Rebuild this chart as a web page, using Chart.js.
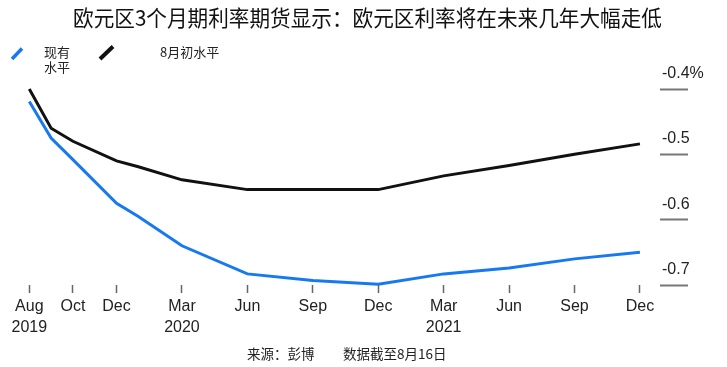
<!DOCTYPE html>
<html>
<head>
<meta charset="utf-8">
<title>欧元区3个月期利率期货</title>
<script src="https://cdn.jsdelivr.net/npm/chart.js@4"></script>
<style>
  html, body { margin: 0; padding: 0; background: #fff; }
  #wrap { position: relative; width: 727px; height: 367px; }
</style>
</head>
<body>
<div id="wrap"><canvas id="chart"></canvas></div>
<script>
// months counted from Aug 2019 (0) to Dec 2021 (28)
const months = [0, 1, 2, 4, 5, 7, 10, 13, 16, 19, 22, 25, 28];
const currentLevel = [-0.419, -0.475, -0.508, -0.575, -0.595, -0.640, -0.683, -0.693, -0.699, -0.683, -0.674, -0.660, -0.650];
const augustLevel = [-0.400, -0.460, -0.480, -0.510, -0.519, -0.539, -0.554, -0.554, -0.554, -0.533, -0.517, -0.500, -0.484];

const tickMonths = [0, 2, 4, 7, 10, 13, 16, 19, 22, 25, 28];
const tickLabels = [['Aug', '2019'], 'Oct', 'Dec', ['Mar', '2020'], 'Jun', 'Sep', 'Dec', ['Mar', '2021'], 'Jun', 'Sep', 'Dec'];
const yTicks = [-0.4, -0.5, -0.6, -0.7];

const title = '欧元区3个月期利率期货显示：欧元区利率将在未来几年大幅走低';
const legendNames = ['现有', '水平', '8月初水平'];
const sourceText = ['来源：彭博', '数据截至8月16日'];

const BLUE = '#1779f2';
const BLACK = '#111111';
const CJK = "'Noto Sans CJK SC', sans-serif";

Chart.defaults.font.family = "'Liberation Sans', Arial, sans-serif";
Chart.defaults.color = '#222';

const toPoints = vals => vals.map((v, i) => ({ x: months[i], y: v }));

// title, legend and source note
const decor = {
  id: 'decor',
  afterDraw(chart) {
    const ctx = chart.ctx;
    ctx.save();
    ctx.fillStyle = '#111';
    ctx.textBaseline = 'middle';
    ctx.textAlign = 'left';
    ctx.font = '22px ' + CJK;
    ctx.fillText(title, 73, 18, 589);

    ctx.lineCap = 'butt';
    ctx.lineWidth = 3.5;
    ctx.strokeStyle = BLUE;
    ctx.beginPath();
    ctx.moveTo(12, 59);
    ctx.lineTo(22, 48.5);
    ctx.stroke();
    ctx.lineWidth = 4;
    ctx.strokeStyle = BLACK;
    ctx.beginPath();
    ctx.moveTo(100, 59);
    ctx.lineTo(113, 46.5);
    ctx.stroke();

    ctx.fillStyle = '#222';
    ctx.font = '13px ' + CJK;
    ctx.fillText(legendNames[0], 44, 52);
    ctx.fillText(legendNames[1], 44, 67.5);
    ctx.fillText(legendNames[2], 160, 52);

    ctx.font = '13.5px ' + CJK;
    ctx.fillText(sourceText[0], 247, 354);
    ctx.fillText(sourceText[1], 343, 354);
    ctx.restore();
  }
};

new Chart(document.getElementById('chart'), {
  type: 'line',
  data: {
    datasets: [
      {
        label: '现有水平',
        data: toPoints(currentLevel),
        borderColor: BLUE,
        borderWidth: 3,
        pointRadius: 0,
        tension: 0,
        clip: false
      },
      {
        label: '8月初水平',
        data: toPoints(augustLevel),
        borderColor: BLACK,
        borderWidth: 3,
        pointRadius: 0,
        tension: 0,
        clip: false
      }
    ]
  },
  options: {
    responsive: true,
    maintainAspectRatio: false,
    animation: false,
    layout: { padding: { left: 10, top: 89, right: 0, bottom: 0 } },
    plugins: {
      legend: { display: false },
      title: { display: false },
      tooltip: { enabled: false }
    },
    scales: {
      x: {
        type: 'linear',
        min: -0.885,
        max: 28.92,
        afterBuildTicks: scale => { scale.ticks = tickMonths.map(v => ({ value: v })); },
        afterFit: scale => { scale.height = 82; },
        border: { display: false },
        grid: {
          drawOnChartArea: false,
          tickLength: 8,
          tickColor: '#666',
          tickWidth: 1.5
        },
        ticks: {
          autoSkip: false,
          maxRotation: 0,
          padding: 3,
          color: '#222',
          font: { size: 16, lineHeight: 1.3 },
          callback: (v) => tickLabels[tickMonths.indexOf(v)]
        }
      },
      y: {
        position: 'right',
        min: -0.7,
        max: -0.4,
        afterBuildTicks: scale => { scale.ticks = yTicks.map(v => ({ value: v })); },
        afterFit: scale => { scale.width = 67; },
        border: { display: false },
        grid: {
          drawOnChartArea: false,
          tickLength: 28,
          tickColor: '#777',
          tickWidth: 2
        },
        ticks: {
          padding: -26,
          labelOffset: -15.5,
          color: '#222',
          font: { size: 16 },
          callback: (v) => v === -0.4 ? '-0.4%' : v.toFixed(1)
        }
      }
    }
  },
  plugins: [decor]
});
</script>
</body>
</html>
